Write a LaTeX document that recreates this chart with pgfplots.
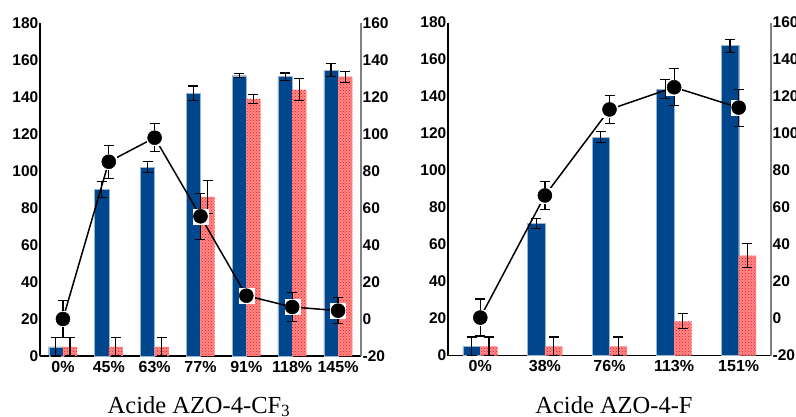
\documentclass[border=0pt]{standalone}
\usepackage{fontspec}
\setmainfont{Liberation Serif}
\setsansfont{Liberation Sans}
\usepackage{pgfplots}
\pgfplotsset{compat=1.18}
\usetikzlibrary{patterns}
\definecolor{barblue}{RGB}{0,70,140}
\definecolor{dotred}{RGB}{255,20,20}
\pgfplotsset{
  common/.style={scale only axis, height=333pt, ymin=0, ymax=180, ytick distance=20,
    tick label style={font=\fontsize{15.5}{16}\selectfont\sffamily\bfseries},
    /pgf/number format/assume math mode=true,
    major tick length=0pt, clip=false,
    yticklabel style={inner sep=1.5pt},
    xticklabel style={font=\fontsize{16}{16}\selectfont\sffamily\bfseries, inner sep=0pt, yshift=-5pt, anchor=north},
  },
  lefty/.style={common, axis y line*=left, axis x line*=bottom,
    axis line style={black, line width=1.3pt}},
  righty/.style={common, ymin=-20, ymax=160, axis y line*=right, axis x line=none,
    axis line style={gray, line width=1.3pt}},
  eb/.style={error bars/y dir=both, error bars/y explicit,
    error bars/error mark=|,
    error bars/error bar style={black, line width=1.2pt},
    error bars/error mark options={black, mark size=5pt, line width=1.2pt}},
  bluebar/.style={ybar, bar shift=0pt, fill=barblue, draw=barblue!40, line width=0.4pt, eb},
  redbar/.style={ybar, bar shift=0pt, draw=none, fill=dotred!50, postaction={pattern=crosshatch dots, pattern color=dotred}, eb},
  sq/.style={only marks, mark=square*, mark size=7.5pt, mark options={fill=white, draw=white}},
  ln/.style={black, line width=1.5pt, mark=*, mark size=7pt, mark options={fill=black, draw=black, line width=0.5pt}, eb},
}
\begin{document}
\begin{tikzpicture}
\useasboundingbox (0,0) rectangle (796pt,416pt);
% ---------- Left chart ----------
\begin{axis}[lefty, at={(40pt,60pt)}, anchor=south west, width=321pt,
  xmin=-0.5, xmax=6.5, xtick={0,...,6},
  xticklabels={0\%,45\%,63\%,77\%,91\%,118\%,145\%}]
\addplot[bluebar, bar width=0.31, x filter/.expression={x-0.155}] coordinates {
 (0,5) +- (0,5) (1,90) +- (0,4.5) (2,102) +- (0,3) (3,142) +- (0,4)
 (4,151.5) +- (0,1) (5,151) +- (0,2) (6,154.5) +- (0,3.5)};
\addplot[redbar, bar width=0.31, x filter/.expression={x+0.155}] coordinates {
 (0,5) +- (0,5) (1,5) +- (0,5) (2,5) +- (0,5) (3,86) +- (0,9)
 (4,139) +- (0,2.5) (5,144) +- (0,6) (6,151) +- (0,3)};
\end{axis}
\begin{axis}[righty, at={(40pt,60pt)}, anchor=south west, width=321pt,
  xmin=-0.5, xmax=6.5, yticklabel style={anchor=west}]
\addplot[sq] coordinates {(0,0) (1,85) (2,98) (3,55.5) (4,12.6) (5,6.5) (6,4.5)};
\addplot[ln] coordinates {
 (0,0) +- (0,10) (1,85) +- (0,9) (2,98) +- (0,7.5) (3,55.5) +- (0,12.5)
 (4,12.6) +- (0,2) (5,6.5) +- (0,8) (6,4.5) +- (0,7)};
\end{axis}
% ---------- Right chart ----------
\begin{axis}[lefty, at={(448pt,60.5pt)}, anchor=south west, width=323pt,
  xmin=-0.5, xmax=4.5, xtick={0,...,4},
  xticklabels={0\%,38\%,76\%,113\%,151\%}]
\addplot[bluebar, bar width=0.27, x filter/.expression={x-0.135}] coordinates {
 (0,5) +- (0,5) (1,71.5) +- (0,2.7) (2,118) +- (0,3) (3,144) +- (0,5) (4,167.5) +- (0,3.5)};
\addplot[redbar, bar width=0.27, x filter/.expression={x+0.135}] coordinates {
 (0,5) +- (0,5) (1,5) +- (0,5) (2,5) +- (0,5) (3,18.5) +- (0,4) (4,54) +- (0,6.5)};
\end{axis}
\begin{axis}[righty, at={(448pt,60.5pt)}, anchor=south west, width=323pt,
  xmin=-0.5, xmax=4.5, yticklabel style={anchor=west}]
\addplot[sq] coordinates {(0,0.5) (1,66.5) (2,113) (3,125) (4,114)};
\addplot[ln] coordinates {
 (0,0.5) +- (0,10) (1,66.5) +- (0,7.5) (2,113) +- (0,7.5) (3,125) +- (0,10) (4,114) +- (0,10)};
\end{axis}
% ---------- Titles ----------
\node[anchor=base, inner sep=0pt, font=\fontsize{24.5}{25}\selectfont] at (199pt,3pt) {Acide AZO-4-CF\textsubscript{3}};
\node[anchor=base, inner sep=0pt, font=\fontsize{24.5}{25}\selectfont] at (614pt,3pt) {Acide AZO-4-F};
\end{tikzpicture}
\end{document}
